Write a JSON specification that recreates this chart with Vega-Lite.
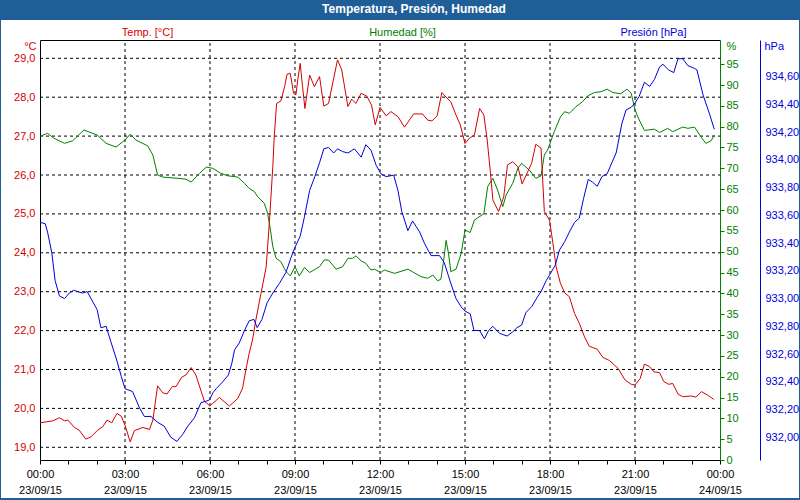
{
  "$schema": "https://vega.github.io/schema/vega-lite/v6.json",
  "width": 798,
  "height": 478,
  "autosize": {"type": "none"},
  "padding": {"left": 1, "top": 20, "right": 1, "bottom": 2},
  "background": "#1f5e97",
  "view": {"fill": "white", "stroke": null},
  "config": {
    "font": "Liberation Sans",
    "axis": {"labelFont": "Liberation Sans", "titleFont": "Liberation Sans", "labelFontSize": 11, "titleFontSize": 11, "titleFontWeight": "normal", "grid": false}
  },
  "title": {"text": "Temperatura, Presión, Humedad", "color": "white", "font": "Liberation Sans", "fontSize": 12, "fontWeight": "bold", "anchor": "middle", "frame": "group", "offset": 4, "dx": 14},
  "datasets": {
    "vgrid": [
      {"t": "2015-09-23T03:00"}, {"t": "2015-09-23T06:00"}, {"t": "2015-09-23T09:00"}, {"t": "2015-09-23T12:00"},
      {"t": "2015-09-23T15:00"}, {"t": "2015-09-23T18:00"}, {"t": "2015-09-23T21:00"}
    ],
    "hgrid": [
      {"v": 19}, {"v": 20}, {"v": 21}, {"v": 22}, {"v": 23}, {"v": 24}, {"v": 25}, {"v": 26}, {"v": 27}, {"v": 28}, {"v": 29}
    ],
    "temp": [
      {"t": "2015-09-23T00:00", "v": 19.63}, {"t": "2015-09-23T00:27", "v": 19.68}, {"t": "2015-09-23T00:41", "v": 19.76},
      {"t": "2015-09-23T00:52", "v": 19.68}, {"t": "2015-09-23T00:59", "v": 19.70}, {"t": "2015-09-23T01:13", "v": 19.51},
      {"t": "2015-09-23T01:23", "v": 19.44}, {"t": "2015-09-23T01:37", "v": 19.21}, {"t": "2015-09-23T01:48", "v": 19.27},
      {"t": "2015-09-23T02:02", "v": 19.44}, {"t": "2015-09-23T02:13", "v": 19.53}, {"t": "2015-09-23T02:22", "v": 19.70},
      {"t": "2015-09-23T02:32", "v": 19.63}, {"t": "2015-09-23T02:43", "v": 19.87}, {"t": "2015-09-23T02:52", "v": 19.80},
      {"t": "2015-09-23T03:00", "v": 19.57}, {"t": "2015-09-23T03:11", "v": 19.14}, {"t": "2015-09-23T03:20", "v": 19.43},
      {"t": "2015-09-23T03:38", "v": 19.51}, {"t": "2015-09-23T03:52", "v": 19.46}, {"t": "2015-09-23T03:59", "v": 19.70},
      {"t": "2015-09-23T04:09", "v": 20.58}, {"t": "2015-09-23T04:20", "v": 20.40}, {"t": "2015-09-23T04:29", "v": 20.37},
      {"t": "2015-09-23T04:40", "v": 20.56}, {"t": "2015-09-23T04:48", "v": 20.56}, {"t": "2015-09-23T05:00", "v": 20.80},
      {"t": "2015-09-23T05:09", "v": 20.86}, {"t": "2015-09-23T05:20", "v": 21.05}, {"t": "2015-09-23T05:30", "v": 20.86},
      {"t": "2015-09-23T05:48", "v": 20.19}, {"t": "2015-09-23T05:59", "v": 20.07}, {"t": "2015-09-23T06:06", "v": 20.13},
      {"t": "2015-09-23T06:20", "v": 20.28}, {"t": "2015-09-23T06:41", "v": 20.06}, {"t": "2015-09-23T06:59", "v": 20.26},
      {"t": "2015-09-23T07:09", "v": 20.52}, {"t": "2015-09-23T07:16", "v": 20.99}, {"t": "2015-09-23T07:23", "v": 21.42},
      {"t": "2015-09-23T07:30", "v": 21.76}, {"t": "2015-09-23T07:37", "v": 22.27}, {"t": "2015-09-23T07:48", "v": 22.96},
      {"t": "2015-09-23T07:59", "v": 23.64}, {"t": "2015-09-23T08:06", "v": 24.84}, {"t": "2015-09-23T08:13", "v": 26.21},
      {"t": "2015-09-23T08:16", "v": 26.98}, {"t": "2015-09-23T08:21", "v": 27.84}, {"t": "2015-09-23T08:30", "v": 27.90},
      {"t": "2015-09-23T08:38", "v": 28.27}, {"t": "2015-09-23T08:43", "v": 28.59}, {"t": "2015-09-23T08:50", "v": 28.61},
      {"t": "2015-09-23T08:57", "v": 28.10}, {"t": "2015-09-23T09:02", "v": 28.06}, {"t": "2015-09-23T09:06", "v": 28.46},
      {"t": "2015-09-23T09:11", "v": 28.87}, {"t": "2015-09-23T09:16", "v": 28.27}, {"t": "2015-09-23T09:21", "v": 27.71},
      {"t": "2015-09-23T09:31", "v": 28.57}, {"t": "2015-09-23T09:41", "v": 28.27}, {"t": "2015-09-23T09:52", "v": 28.53},
      {"t": "2015-09-23T10:01", "v": 27.77}, {"t": "2015-09-23T10:11", "v": 27.84}, {"t": "2015-09-23T10:22", "v": 28.49},
      {"t": "2015-09-23T10:30", "v": 28.96}, {"t": "2015-09-23T10:39", "v": 28.70}, {"t": "2015-09-23T10:52", "v": 27.76},
      {"t": "2015-09-23T11:00", "v": 27.95}, {"t": "2015-09-23T11:09", "v": 27.84}, {"t": "2015-09-23T11:20", "v": 28.10},
      {"t": "2015-09-23T11:32", "v": 28.03}, {"t": "2015-09-23T11:42", "v": 27.80}, {"t": "2015-09-23T11:50", "v": 27.29},
      {"t": "2015-09-23T12:00", "v": 27.74}, {"t": "2015-09-23T12:13", "v": 27.52}, {"t": "2015-09-23T12:23", "v": 27.63},
      {"t": "2015-09-23T12:38", "v": 27.50}, {"t": "2015-09-23T12:52", "v": 27.23}, {"t": "2015-09-23T13:11", "v": 27.57},
      {"t": "2015-09-23T13:30", "v": 27.57}, {"t": "2015-09-23T13:41", "v": 27.41}, {"t": "2015-09-23T13:50", "v": 27.39},
      {"t": "2015-09-23T14:01", "v": 27.52}, {"t": "2015-09-23T14:11", "v": 28.12}, {"t": "2015-09-23T14:20", "v": 28.00},
      {"t": "2015-09-23T14:30", "v": 27.88}, {"t": "2015-09-23T14:41", "v": 27.54}, {"t": "2015-09-23T14:50", "v": 27.29},
      {"t": "2015-09-23T15:00", "v": 26.81}, {"t": "2015-09-23T15:09", "v": 26.94}, {"t": "2015-09-23T15:20", "v": 27.03},
      {"t": "2015-09-23T15:31", "v": 27.71}, {"t": "2015-09-23T15:40", "v": 27.54}, {"t": "2015-09-23T15:47", "v": 26.90},
      {"t": "2015-09-23T15:54", "v": 26.04}, {"t": "2015-09-23T15:59", "v": 25.36}, {"t": "2015-09-23T16:11", "v": 25.06},
      {"t": "2015-09-23T16:22", "v": 25.44}, {"t": "2015-09-23T16:30", "v": 26.26}, {"t": "2015-09-23T16:41", "v": 26.34},
      {"t": "2015-09-23T16:52", "v": 26.21}, {"t": "2015-09-23T17:01", "v": 25.77}, {"t": "2015-09-23T17:13", "v": 26.09},
      {"t": "2015-09-23T17:21", "v": 26.30}, {"t": "2015-09-23T17:30", "v": 26.79}, {"t": "2015-09-23T17:41", "v": 26.69},
      {"t": "2015-09-23T17:48", "v": 25.06}, {"t": "2015-09-23T17:59", "v": 24.84}, {"t": "2015-09-23T18:06", "v": 24.26},
      {"t": "2015-09-23T18:13", "v": 23.64}, {"t": "2015-09-23T18:22", "v": 23.22}, {"t": "2015-09-23T18:31", "v": 22.97},
      {"t": "2015-09-23T18:41", "v": 22.87}, {"t": "2015-09-23T18:52", "v": 22.44}, {"t": "2015-09-23T19:02", "v": 22.19},
      {"t": "2015-09-23T19:13", "v": 21.84}, {"t": "2015-09-23T19:23", "v": 21.60}, {"t": "2015-09-23T19:40", "v": 21.52},
      {"t": "2015-09-23T19:52", "v": 21.31}, {"t": "2015-09-23T20:06", "v": 21.23}, {"t": "2015-09-23T20:24", "v": 21.03},
      {"t": "2015-09-23T20:39", "v": 20.73}, {"t": "2015-09-23T20:52", "v": 20.62}, {"t": "2015-09-23T21:00", "v": 20.60},
      {"t": "2015-09-23T21:11", "v": 20.77}, {"t": "2015-09-23T21:20", "v": 21.14}, {"t": "2015-09-23T21:31", "v": 21.07},
      {"t": "2015-09-23T21:40", "v": 20.94}, {"t": "2015-09-23T21:52", "v": 20.92}, {"t": "2015-09-23T22:01", "v": 20.69},
      {"t": "2015-09-23T22:11", "v": 20.62}, {"t": "2015-09-23T22:20", "v": 20.64}, {"t": "2015-09-23T22:31", "v": 20.37},
      {"t": "2015-09-23T22:41", "v": 20.30}, {"t": "2015-09-23T22:59", "v": 20.32}, {"t": "2015-09-23T23:09", "v": 20.29},
      {"t": "2015-09-23T23:21", "v": 20.43}, {"t": "2015-09-23T23:34", "v": 20.34}, {"t": "2015-09-23T23:47", "v": 20.23}
    ],
    "hum": [
      {"t": "2015-09-23T00:00", "v": 77.7}, {"t": "2015-09-23T00:16", "v": 78.4}, {"t": "2015-09-23T00:30", "v": 77.2},
      {"t": "2015-09-23T00:52", "v": 76.0}, {"t": "2015-09-23T01:09", "v": 76.6}, {"t": "2015-09-23T01:33", "v": 79.2},
      {"t": "2015-09-23T02:01", "v": 78.0}, {"t": "2015-09-23T02:20", "v": 76.0}, {"t": "2015-09-23T02:41", "v": 75.1},
      {"t": "2015-09-23T03:00", "v": 76.8}, {"t": "2015-09-23T03:11", "v": 78.2}, {"t": "2015-09-23T03:23", "v": 76.8},
      {"t": "2015-09-23T03:48", "v": 75.4}, {"t": "2015-09-23T03:59", "v": 73.2}, {"t": "2015-09-23T04:09", "v": 68.4},
      {"t": "2015-09-23T04:20", "v": 67.9}, {"t": "2015-09-23T04:52", "v": 67.6}, {"t": "2015-09-23T05:09", "v": 67.4},
      {"t": "2015-09-23T05:20", "v": 66.7}, {"t": "2015-09-23T05:38", "v": 68.8}, {"t": "2015-09-23T05:52", "v": 70.3},
      {"t": "2015-09-23T06:06", "v": 70.0}, {"t": "2015-09-23T06:23", "v": 68.8}, {"t": "2015-09-23T06:38", "v": 68.2},
      {"t": "2015-09-23T06:59", "v": 67.9}, {"t": "2015-09-23T07:13", "v": 66.4}, {"t": "2015-09-23T07:23", "v": 65.2},
      {"t": "2015-09-23T07:34", "v": 64.4}, {"t": "2015-09-23T07:41", "v": 63.2}, {"t": "2015-09-23T07:55", "v": 61.6},
      {"t": "2015-09-23T08:02", "v": 59.2}, {"t": "2015-09-23T08:08", "v": 55.2}, {"t": "2015-09-23T08:13", "v": 51.2},
      {"t": "2015-09-23T08:20", "v": 48.4}, {"t": "2015-09-23T08:30", "v": 47.6}, {"t": "2015-09-23T08:41", "v": 45.2},
      {"t": "2015-09-23T08:50", "v": 44.2}, {"t": "2015-09-23T09:00", "v": 46.4}, {"t": "2015-09-23T09:09", "v": 44.2},
      {"t": "2015-09-23T09:20", "v": 46.2}, {"t": "2015-09-23T09:31", "v": 45.0}, {"t": "2015-09-23T09:52", "v": 46.4},
      {"t": "2015-09-23T10:02", "v": 48.0}, {"t": "2015-09-23T10:11", "v": 48.0}, {"t": "2015-09-23T10:27", "v": 45.8},
      {"t": "2015-09-23T10:41", "v": 46.4}, {"t": "2015-09-23T10:52", "v": 48.4}, {"t": "2015-09-23T11:02", "v": 48.4},
      {"t": "2015-09-23T11:09", "v": 49.0}, {"t": "2015-09-23T11:20", "v": 47.8}, {"t": "2015-09-23T11:30", "v": 47.2},
      {"t": "2015-09-23T11:41", "v": 45.6}, {"t": "2015-09-23T11:48", "v": 45.8}, {"t": "2015-09-23T12:02", "v": 45.0},
      {"t": "2015-09-23T12:09", "v": 45.6}, {"t": "2015-09-23T12:31", "v": 44.8}, {"t": "2015-09-23T12:59", "v": 45.8},
      {"t": "2015-09-23T13:27", "v": 44.0}, {"t": "2015-09-23T13:41", "v": 43.6}, {"t": "2015-09-23T13:52", "v": 44.4},
      {"t": "2015-09-23T14:02", "v": 43.0}, {"t": "2015-09-23T14:09", "v": 43.4}, {"t": "2015-09-23T14:14", "v": 47.2},
      {"t": "2015-09-23T14:20", "v": 52.7}, {"t": "2015-09-23T14:25", "v": 49.6}, {"t": "2015-09-23T14:30", "v": 45.2},
      {"t": "2015-09-23T14:41", "v": 45.8}, {"t": "2015-09-23T14:52", "v": 49.6}, {"t": "2015-09-23T15:00", "v": 55.2},
      {"t": "2015-09-23T15:11", "v": 54.6}, {"t": "2015-09-23T15:20", "v": 57.6}, {"t": "2015-09-23T15:40", "v": 59.1},
      {"t": "2015-09-23T15:48", "v": 65.6}, {"t": "2015-09-23T15:59", "v": 67.6}, {"t": "2015-09-23T16:09", "v": 64.8},
      {"t": "2015-09-23T16:20", "v": 60.8}, {"t": "2015-09-23T16:27", "v": 63.6}, {"t": "2015-09-23T16:41", "v": 66.4},
      {"t": "2015-09-23T16:52", "v": 70.0}, {"t": "2015-09-23T17:00", "v": 71.2}, {"t": "2015-09-23T17:16", "v": 69.6},
      {"t": "2015-09-23T17:30", "v": 67.6}, {"t": "2015-09-23T17:41", "v": 68.2}, {"t": "2015-09-23T17:48", "v": 73.2},
      {"t": "2015-09-23T17:55", "v": 74.4}, {"t": "2015-09-23T18:09", "v": 78.8}, {"t": "2015-09-23T18:22", "v": 82.3},
      {"t": "2015-09-23T18:31", "v": 83.6}, {"t": "2015-09-23T18:41", "v": 83.2}, {"t": "2015-09-23T18:55", "v": 84.8},
      {"t": "2015-09-23T19:09", "v": 86.0}, {"t": "2015-09-23T19:20", "v": 87.4}, {"t": "2015-09-23T19:34", "v": 88.2},
      {"t": "2015-09-23T19:48", "v": 88.4}, {"t": "2015-09-23T20:01", "v": 89.0}, {"t": "2015-09-23T20:13", "v": 88.2},
      {"t": "2015-09-23T20:30", "v": 87.9}, {"t": "2015-09-23T20:43", "v": 89.0}, {"t": "2015-09-23T20:52", "v": 88.0},
      {"t": "2015-09-23T21:00", "v": 84.0}, {"t": "2015-09-23T21:09", "v": 81.6}, {"t": "2015-09-23T21:20", "v": 79.1},
      {"t": "2015-09-23T21:41", "v": 79.4}, {"t": "2015-09-23T21:52", "v": 78.6}, {"t": "2015-09-23T22:09", "v": 79.6},
      {"t": "2015-09-23T22:20", "v": 78.8}, {"t": "2015-09-23T22:41", "v": 79.9}, {"t": "2015-09-23T22:52", "v": 79.6},
      {"t": "2015-09-23T23:06", "v": 79.9}, {"t": "2015-09-23T23:20", "v": 77.5}, {"t": "2015-09-23T23:30", "v": 76.0},
      {"t": "2015-09-23T23:41", "v": 76.6}, {"t": "2015-09-23T23:48", "v": 78.0}
    ],
    "pres": [
      {"t": "2015-09-23T00:00", "v": 933.55}, {"t": "2015-09-23T00:11", "v": 933.54}, {"t": "2015-09-23T00:16", "v": 933.48},
      {"t": "2015-09-23T00:25", "v": 933.33}, {"t": "2015-09-23T00:32", "v": 933.13}, {"t": "2015-09-23T00:41", "v": 933.02},
      {"t": "2015-09-23T00:52", "v": 933.00}, {"t": "2015-09-23T01:02", "v": 933.04}, {"t": "2015-09-23T01:11", "v": 933.06},
      {"t": "2015-09-23T01:20", "v": 933.05}, {"t": "2015-09-23T01:30", "v": 933.04}, {"t": "2015-09-23T01:40", "v": 933.05},
      {"t": "2015-09-23T01:48", "v": 933.00}, {"t": "2015-09-23T02:01", "v": 932.92}, {"t": "2015-09-23T02:09", "v": 932.79},
      {"t": "2015-09-23T02:20", "v": 932.80}, {"t": "2015-09-23T02:30", "v": 932.69}, {"t": "2015-09-23T02:43", "v": 932.55},
      {"t": "2015-09-23T02:52", "v": 932.44}, {"t": "2015-09-23T03:00", "v": 932.35}, {"t": "2015-09-23T03:16", "v": 932.33},
      {"t": "2015-09-23T03:31", "v": 932.21}, {"t": "2015-09-23T03:41", "v": 932.15}, {"t": "2015-09-23T03:55", "v": 932.15},
      {"t": "2015-09-23T04:08", "v": 932.11}, {"t": "2015-09-23T04:23", "v": 932.08}, {"t": "2015-09-23T04:37", "v": 932.00},
      {"t": "2015-09-23T04:50", "v": 931.97}, {"t": "2015-09-23T05:02", "v": 932.02}, {"t": "2015-09-23T05:13", "v": 932.08},
      {"t": "2015-09-23T05:27", "v": 932.14}, {"t": "2015-09-23T05:41", "v": 932.25}, {"t": "2015-09-23T05:52", "v": 932.26},
      {"t": "2015-09-23T05:59", "v": 932.27}, {"t": "2015-09-23T06:06", "v": 932.32}, {"t": "2015-09-23T06:13", "v": 932.35},
      {"t": "2015-09-23T06:27", "v": 932.40}, {"t": "2015-09-23T06:39", "v": 932.45}, {"t": "2015-09-23T06:46", "v": 932.53},
      {"t": "2015-09-23T06:52", "v": 932.63}, {"t": "2015-09-23T07:02", "v": 932.68}, {"t": "2015-09-23T07:13", "v": 932.77},
      {"t": "2015-09-23T07:23", "v": 932.84}, {"t": "2015-09-23T07:33", "v": 932.85}, {"t": "2015-09-23T07:40", "v": 932.79},
      {"t": "2015-09-23T07:50", "v": 932.85}, {"t": "2015-09-23T08:01", "v": 932.97}, {"t": "2015-09-23T08:13", "v": 933.04},
      {"t": "2015-09-23T08:27", "v": 933.11}, {"t": "2015-09-23T08:41", "v": 933.19}, {"t": "2015-09-23T08:52", "v": 933.30},
      {"t": "2015-09-23T09:00", "v": 933.37}, {"t": "2015-09-23T09:11", "v": 933.45}, {"t": "2015-09-23T09:20", "v": 933.59},
      {"t": "2015-09-23T09:31", "v": 933.78}, {"t": "2015-09-23T09:42", "v": 933.88}, {"t": "2015-09-23T09:52", "v": 933.98},
      {"t": "2015-09-23T10:01", "v": 934.08}, {"t": "2015-09-23T10:11", "v": 934.09}, {"t": "2015-09-23T10:22", "v": 934.05},
      {"t": "2015-09-23T10:30", "v": 934.08}, {"t": "2015-09-23T10:41", "v": 934.06}, {"t": "2015-09-23T10:52", "v": 934.05},
      {"t": "2015-09-23T11:06", "v": 934.08}, {"t": "2015-09-23T11:20", "v": 934.02}, {"t": "2015-09-23T11:30", "v": 934.11},
      {"t": "2015-09-23T11:41", "v": 934.07}, {"t": "2015-09-23T11:52", "v": 933.96}, {"t": "2015-09-23T12:02", "v": 933.90},
      {"t": "2015-09-23T12:13", "v": 933.88}, {"t": "2015-09-23T12:29", "v": 933.89}, {"t": "2015-09-23T12:38", "v": 933.78},
      {"t": "2015-09-23T12:46", "v": 933.63}, {"t": "2015-09-23T12:59", "v": 933.49}, {"t": "2015-09-23T13:09", "v": 933.56},
      {"t": "2015-09-23T13:24", "v": 933.48}, {"t": "2015-09-23T13:34", "v": 933.40}, {"t": "2015-09-23T13:48", "v": 933.31},
      {"t": "2015-09-23T14:06", "v": 933.31}, {"t": "2015-09-23T14:16", "v": 933.26}, {"t": "2015-09-23T14:29", "v": 933.12},
      {"t": "2015-09-23T14:41", "v": 933.00}, {"t": "2015-09-23T14:52", "v": 932.94}, {"t": "2015-09-23T15:00", "v": 932.91},
      {"t": "2015-09-23T15:11", "v": 932.89}, {"t": "2015-09-23T15:19", "v": 932.77}, {"t": "2015-09-23T15:31", "v": 932.77},
      {"t": "2015-09-23T15:41", "v": 932.71}, {"t": "2015-09-23T15:50", "v": 932.77}, {"t": "2015-09-23T15:59", "v": 932.80},
      {"t": "2015-09-23T16:13", "v": 932.75}, {"t": "2015-09-23T16:29", "v": 932.73}, {"t": "2015-09-23T16:41", "v": 932.76},
      {"t": "2015-09-23T16:50", "v": 932.79}, {"t": "2015-09-23T17:00", "v": 932.81}, {"t": "2015-09-23T17:09", "v": 932.90},
      {"t": "2015-09-23T17:21", "v": 932.94}, {"t": "2015-09-23T17:33", "v": 933.01}, {"t": "2015-09-23T17:41", "v": 933.05},
      {"t": "2015-09-23T17:52", "v": 933.13}, {"t": "2015-09-23T17:59", "v": 933.17}, {"t": "2015-09-23T18:11", "v": 933.24},
      {"t": "2015-09-23T18:20", "v": 933.35}, {"t": "2015-09-23T18:31", "v": 933.41}, {"t": "2015-09-23T18:41", "v": 933.48},
      {"t": "2015-09-23T18:52", "v": 933.55}, {"t": "2015-09-23T19:02", "v": 933.58}, {"t": "2015-09-23T19:11", "v": 933.72},
      {"t": "2015-09-23T19:21", "v": 933.86}, {"t": "2015-09-23T19:30", "v": 933.84}, {"t": "2015-09-23T19:40", "v": 933.81},
      {"t": "2015-09-23T19:50", "v": 933.88}, {"t": "2015-09-23T20:01", "v": 933.90}, {"t": "2015-09-23T20:11", "v": 933.98},
      {"t": "2015-09-23T20:20", "v": 934.05}, {"t": "2015-09-23T20:27", "v": 934.17}, {"t": "2015-09-23T20:32", "v": 934.26},
      {"t": "2015-09-23T20:41", "v": 934.36}, {"t": "2015-09-23T20:52", "v": 934.38}, {"t": "2015-09-23T21:00", "v": 934.41},
      {"t": "2015-09-23T21:09", "v": 934.46}, {"t": "2015-09-23T21:20", "v": 934.56}, {"t": "2015-09-23T21:31", "v": 934.53},
      {"t": "2015-09-23T21:41", "v": 934.58}, {"t": "2015-09-23T21:52", "v": 934.67}, {"t": "2015-09-23T21:59", "v": 934.69},
      {"t": "2015-09-23T22:11", "v": 934.65}, {"t": "2015-09-23T22:22", "v": 934.63}, {"t": "2015-09-23T22:31", "v": 934.73},
      {"t": "2015-09-23T22:41", "v": 934.73}, {"t": "2015-09-23T22:52", "v": 934.68}, {"t": "2015-09-23T23:06", "v": 934.66},
      {"t": "2015-09-23T23:11", "v": 934.65}, {"t": "2015-09-23T23:24", "v": 934.47}, {"t": "2015-09-23T23:38", "v": 934.33},
      {"t": "2015-09-23T23:48", "v": 934.22}
    ]
  },
  "layer": [
    {
      "data": {"name": "vgrid"},
      "mark": {"type": "rule", "color": "black", "strokeDash": [3, 3], "strokeWidth": 1},
      "encoding": {
        "x": {
          "field": "t", "type": "temporal",
          "scale": {"domain": [{"year": 2015, "month": 9, "date": 23, "hours": 0}, {"year": 2015, "month": 9, "date": 24, "hours": 0}], "range": [39, 719], "nice": false},
          "axis": {
            "orient": "bottom", "offset": -38, "domainColor": "black", "domainWidth": 1, "ticks": true, "tickColor": "black", "tickSize": 4,
            "values": [
              {"year": 2015, "month": 9, "date": 23, "hours": 0}, {"year": 2015, "month": 9, "date": 23, "hours": 3},
              {"year": 2015, "month": 9, "date": 23, "hours": 6}, {"year": 2015, "month": 9, "date": 23, "hours": 9},
              {"year": 2015, "month": 9, "date": 23, "hours": 12}, {"year": 2015, "month": 9, "date": 23, "hours": 15},
              {"year": 2015, "month": 9, "date": 23, "hours": 18}, {"year": 2015, "month": 9, "date": 23, "hours": 21},
              {"year": 2015, "month": 9, "date": 24, "hours": 0}
            ],
            "labelExpr": "[timeFormat(datum.value, '%H:%M'), timeFormat(datum.value, '%d/%m/%y')]",
            "labelColor": "black", "labelPadding": 4, "labelLineHeight": 16, "labelFlush": false, "labelBound": false, "labelOverlap": false,
            "title": null, "grid": false
          }
        },
        "y": {"datum": 0, "type": "quantitative", "scale": {"domain": [0, 1], "range": [440, 20], "nice": false, "zero": false}, "axis": null},
        "y2": {"datum": 1}
      }
    },
    {
      "data": {"name": "hgrid"},
      "mark": {"type": "rule", "color": "black", "strokeDash": [3, 3], "strokeWidth": 1},
      "encoding": {
        "y": {"field": "v", "type": "quantitative", "scale": {"domain": [18.6735, 29.4705], "range": [440, 20], "nice": false, "zero": false}, "axis": null},
        "x": {
          "datum": {"year": 2015, "month": 9, "date": 23, "hours": 0}, "type": "temporal",
          "scale": {"domain": [{"year": 2015, "month": 9, "date": 23, "hours": 0}, {"year": 2015, "month": 9, "date": 24, "hours": 0}], "range": [39, 719], "nice": false},
          "axis": {
            "orient": "bottom", "offset": -38, "domain": false, "labels": false, "ticks": true, "tickColor": "black", "tickSize": 4,
            "values": [
              {"year": 2015, "month": 9, "date": 23, "hours": 1}, {"year": 2015, "month": 9, "date": 23, "hours": 2},
              {"year": 2015, "month": 9, "date": 23, "hours": 4}, {"year": 2015, "month": 9, "date": 23, "hours": 5},
              {"year": 2015, "month": 9, "date": 23, "hours": 7}, {"year": 2015, "month": 9, "date": 23, "hours": 8},
              {"year": 2015, "month": 9, "date": 23, "hours": 10}, {"year": 2015, "month": 9, "date": 23, "hours": 11},
              {"year": 2015, "month": 9, "date": 23, "hours": 13}, {"year": 2015, "month": 9, "date": 23, "hours": 14},
              {"year": 2015, "month": 9, "date": 23, "hours": 16}, {"year": 2015, "month": 9, "date": 23, "hours": 17},
              {"year": 2015, "month": 9, "date": 23, "hours": 19}, {"year": 2015, "month": 9, "date": 23, "hours": 20},
              {"year": 2015, "month": 9, "date": 23, "hours": 22}, {"year": 2015, "month": 9, "date": 23, "hours": 23}
            ],
            "title": null, "grid": false
          }
        },
        "x2": {"datum": {"year": 2015, "month": 9, "date": 24, "hours": 0}}
      }
    },
    {
      "data": {"name": "hum"},
      "mark": {"type": "line", "color": "#008000", "strokeWidth": 1},
      "encoding": {
        "x": {
          "field": "t", "type": "temporal",
          "scale": {"domain": [{"year": 2015, "month": 9, "date": 23, "hours": 0}, {"year": 2015, "month": 9, "date": 24, "hours": 0}], "range": [39, 719], "nice": false},
          "axis": {"orient": "top", "offset": -20, "domain": false, "labels": false, "ticks": false, "grid": false,
            "title": "Humedad [%]", "titleColor": "#008000", "titleX": 401, "titleY": -8, "titleAlign": "center", "titleBaseline": "middle"}
        },
        "y": {
          "field": "v", "type": "quantitative",
          "scale": {"domain": [0, 100.8], "range": [440, 20], "nice": false, "zero": false},
          "axis": {"orient": "right", "offset": -79, "values": [0, 5, 10, 15, 20, 25, 30, 35, 40, 45, 50, 55, 60, 65, 70, 75, 80, 85, 90, 95],
            "labelColor": "#008000", "tickColor": "#008000", "tickSize": 4, "labelPadding": 2, "domainColor": "#008000", "grid": false,
            "title": "%", "titleColor": "#008000", "titleAngle": 0, "titleX": 6, "titleY": 26, "titleAlign": "left", "titleBaseline": "middle"}
        }
      }
    },
    {
      "data": {"name": "temp"},
      "mark": {"type": "line", "color": "#d40000", "strokeWidth": 1},
      "encoding": {
        "x": {
          "field": "t", "type": "temporal",
          "scale": {"domain": [{"year": 2015, "month": 9, "date": 23, "hours": 0}, {"year": 2015, "month": 9, "date": 24, "hours": 0}], "range": [39, 719], "nice": false},
          "axis": {"orient": "top", "offset": -20, "domain": true, "domainColor": "black", "labels": false, "ticks": false, "grid": false,
            "title": "Temp. [°C]", "titleColor": "#d40000", "titleX": 146, "titleY": -8, "titleAlign": "center", "titleBaseline": "middle"}
        },
        "y": {
          "field": "v", "type": "quantitative",
          "scale": {"domain": [18.6735, 29.4705], "range": [440, 20], "nice": false, "zero": false},
          "axis": {"orient": "left", "offset": -39, "values": [19, 20, 21, 22, 23, 24, 25, 26, 27, 28, 29],
            "labelExpr": "replace(format(datum.value, '.1f'), '.', ',')",
            "labelColor": "#d40000", "ticks": false, "tickSize": 0, "labelPadding": 5, "domainColor": "black", "grid": false,
            "title": "°C", "titleColor": "#d40000", "titleAngle": 0, "titleX": -4, "titleY": 26, "titleAlign": "right", "titleBaseline": "middle"}
        }
      }
    },
    {
      "data": {"name": "pres"},
      "mark": {"type": "line", "color": "#0000dd", "strokeWidth": 1},
      "encoding": {
        "x": {
          "field": "t", "type": "temporal",
          "scale": {"domain": [{"year": 2015, "month": 9, "date": 23, "hours": 0}, {"year": 2015, "month": 9, "date": 24, "hours": 0}], "range": [39, 719], "nice": false},
          "axis": {"orient": "top", "offset": -20, "domain": false, "labels": false, "ticks": false, "grid": false,
            "title": "Presión [hPa]", "titleColor": "#0000dd", "titleX": 652, "titleY": -8, "titleAlign": "center", "titleBaseline": "middle"}
        },
        "y": {
          "field": "v", "type": "quantitative",
          "scale": {"domain": [931.836, 934.865], "range": [440, 20], "nice": false, "zero": false},
          "axis": {"orient": "right", "offset": -39, "values": [932.0, 932.2, 932.4, 932.6, 932.8, 933.0, 933.2, 933.4, 933.6, 933.8, 934.0, 934.2, 934.4, 934.6],
            "labelExpr": "replace(format(datum.value, '.2f'), '.', ',')",
            "labelColor": "#0000dd", "ticks": false, "tickSize": 0, "labelPadding": 5, "domainColor": "#0000dd", "grid": false,
            "title": "hPa", "titleColor": "#0000dd", "titleAngle": 0, "titleX": 4, "titleY": 26, "titleAlign": "left", "titleBaseline": "middle"}
        }
      }
    }
  ],
  "resolve": {"scale": {"y": "independent"}, "axis": {"x": "independent", "y": "independent"}}
}
